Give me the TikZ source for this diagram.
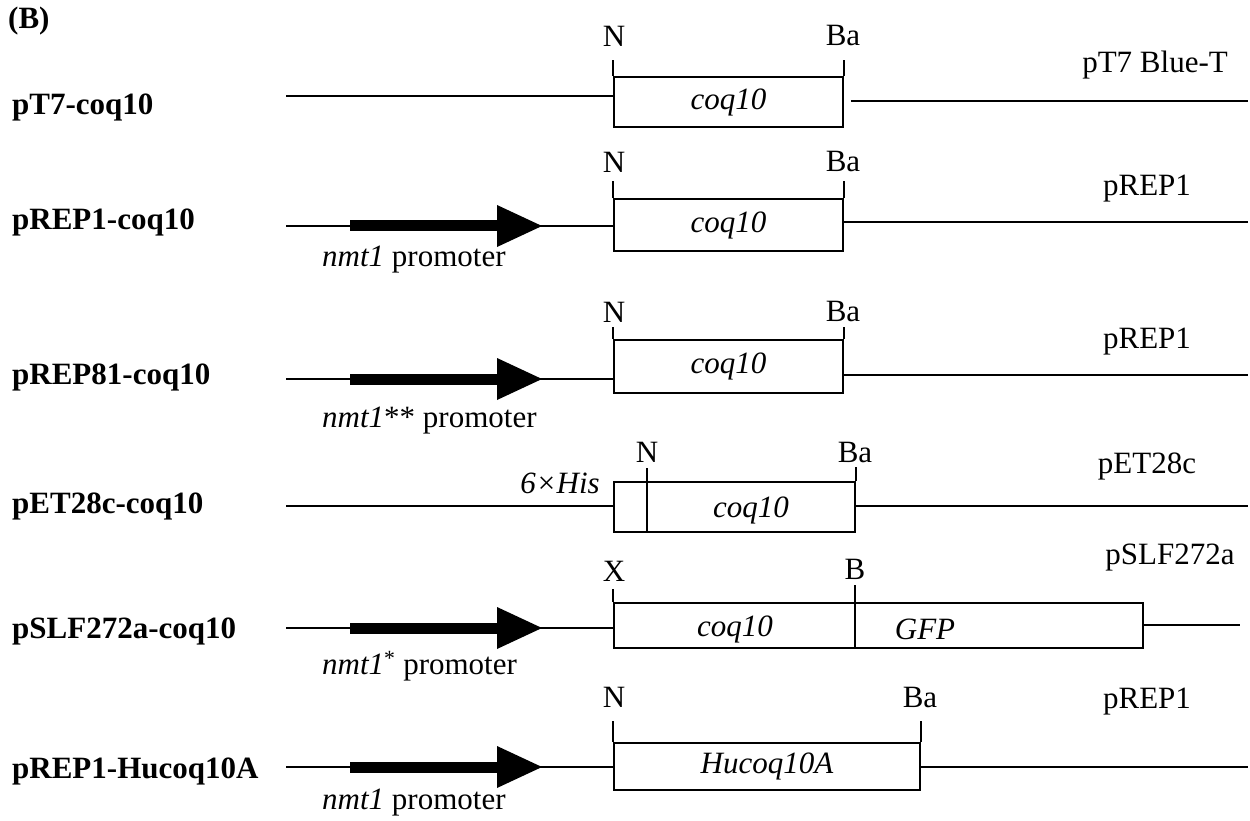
\documentclass[tikz,border=0pt]{standalone}
\usepackage{fontspec}
\setmainfont{Liberation Serif}
\begin{document}
\begin{tikzpicture}[x=1pt,y=-1pt,
  txt/.style={font=\fontsize{31}{36}\selectfont, inner sep=0pt},
  lbl/.style={font=\fontsize{31}{36}\selectfont\bfseries, inner sep=0pt, anchor=west},
  ln/.style={line width=1.7pt},
  gbox/.style={draw, line width=1.7pt, inner sep=0pt, font=\fontsize{31}{36}\selectfont\itshape},
  promarrow/.pic={\fill (0,-5.5) rectangle (147,5.5); \fill (147,-21) -- (192,0) -- (147,21) -- cycle;}]
\useasboundingbox (0,0) rectangle (1250,821);

\node[lbl] (B) at (8,21) {(B)};

% ---------- row 1 ----------
\node[lbl] (r1) at (12,107) {pT7-coq10};
\node[gbox, minimum width=229pt, minimum height=50pt] (b1) at (728.5,102) {coq10};
\coordinate (a1) at (286,96);
\coordinate (e1) at (1248,101);
\draw[ln] (a1) -- (a1 -| b1.west);
\draw[ln] ([xshift=7pt]e1 -| b1.east) -- (e1);
\draw[ln] (b1.north west) -- ++(0,-16);
\draw[ln] (b1.north east) -- ++(0,-16);
\node[txt] (n1) at (614,36) {N};
\node[txt] (ba1) at (843,36) {Ba};
\node[txt] (v1) at (1155,65) {pT7 Blue-T};

% ---------- row 2 ----------
\node[lbl] (r2) at (12,222) {pREP1-coq10};
\node[gbox, minimum width=229pt, minimum height=52pt] (b2) at (728.5,225) {coq10};
\coordinate (a2) at (286,226);
\coordinate (e2) at (1248,222);
\draw[ln] (a2) -- (a2 -| b2.west);
\pic at (350,226) {promarrow};
\draw[ln] (e2 -| b2.east) -- (e2);
\draw[ln] (b2.north west) -- ++(0,-17);
\draw[ln] (b2.north east) -- ++(0,-17);
\node[txt] (n2) at (614,162) {N};
\node[txt] (ba2) at (843,162) {Ba};
\node[txt] (v2) at (1147,189) {pREP1};
\node[txt, anchor=west] (p2) at (322,260) {\textit{nmt1} promoter};

% ---------- row 3 ----------
\node[lbl] (r3) at (12,377) {pREP81-coq10};
\node[gbox, minimum width=229pt, minimum height=53pt] (b3) at (728.5,366.5) {coq10};
\coordinate (a3) at (286,379);
\coordinate (e3) at (1248,375);
\draw[ln] (a3) -- (a3 -| b3.west);
\pic at (350,379) {promarrow};
\draw[ln] (e3 -| b3.east) -- (e3);
\draw[ln] (b3.north west) -- ++(0,-12);
\draw[ln] (b3.north east) -- ++(0,-12);
\node[txt] (n3) at (614,312) {N};
\node[txt] (ba3) at (843,312) {Ba};
\node[txt] (v3) at (1147,342) {pREP1};
\node[txt, anchor=west] (p3) at (322,421) {\textit{nmt1}** promoter};

% ---------- row 4 ----------
\node[lbl] (r4) at (12,506) {pET28c-coq10};
\node[gbox, minimum width=241pt, minimum height=50pt] (b4) at (734.5,507) {};
\coordinate (a4) at (286,506);
\coordinate (e4) at (1248,506);
\coordinate (d4) at (647,468);
\draw[ln] (a4) -- (a4 -| b4.west);
\draw[ln] (e4 -| b4.east) -- (e4);
\draw[ln] (d4) -- (d4 |- b4.south);
\draw[ln] (b4.north east) -- ++(0,-14);
\node[txt] (n4) at (647,452) {N};
\node[txt] (ba4) at (855,452) {Ba};
\node[txt, font=\fontsize{31}{36}\selectfont\itshape] (c4) at (751,510) {coq10};
\node[txt, anchor=east] (h4) at (600,483) {\textit{6×His}};
\node[txt] (v4) at (1147,466) {pET28c};

% ---------- row 5 ----------
\node[lbl] (r5) at (12,631) {pSLF272a-coq10};
\node[gbox, minimum width=529pt, minimum height=45pt] (b5) at (878.5,625.5) {};
\coordinate (a5) at (286,628);
\coordinate (e5) at (1240,625);
\coordinate (d5) at (855,585);
\draw[ln] (a5) -- (a5 -| b5.west);
\pic at (350,628) {promarrow};
\draw[ln] (e5 -| b5.east) -- (e5);
\draw[ln] (d5) -- (d5 |- b5.south);
\draw[ln] (b5.north west) -- ++(0,-13);
\node[txt] (x5) at (614,571) {X};
\node[txt] (bb5) at (855,569) {B};
\node[txt, font=\fontsize{31}{36}\selectfont\itshape] (c5) at (735,629) {coq10};
\node[txt, font=\fontsize{31}{36}\selectfont\itshape] (g5) at (925,629) {GFP};
\node[txt] (v5) at (1170,558) {pSLF272a};
\node[txt, anchor=west] (p5) at (322,666) {\textit{nmt1}\textsuperscript{*} promoter};

% ---------- row 6 ----------
\node[lbl] (r6) at (12,771) {pREP1-Hucoq10A};
\node[gbox, minimum width=306pt, minimum height=47pt] (b6) at (767,766.5) {Hucoq10A};
\coordinate (a6) at (286,767);
\coordinate (e6) at (1248,767);
\draw[ln] (a6) -- (a6 -| b6.west);
\pic at (350,767) {promarrow};
\draw[ln] (e6 -| b6.east) -- (e6);
\draw[ln] (b6.north west) -- ++(0,-21);
\draw[ln] (b6.north east) -- ++(0,-21);
\node[txt] (n6) at (614,697) {N};
\node[txt] (ba6) at (920,697) {Ba};
\node[txt] (v6) at (1147,702) {pREP1};
\node[txt, anchor=west] (p6) at (322,803) {\textit{nmt1} promoter};
\end{tikzpicture}
\end{document}
